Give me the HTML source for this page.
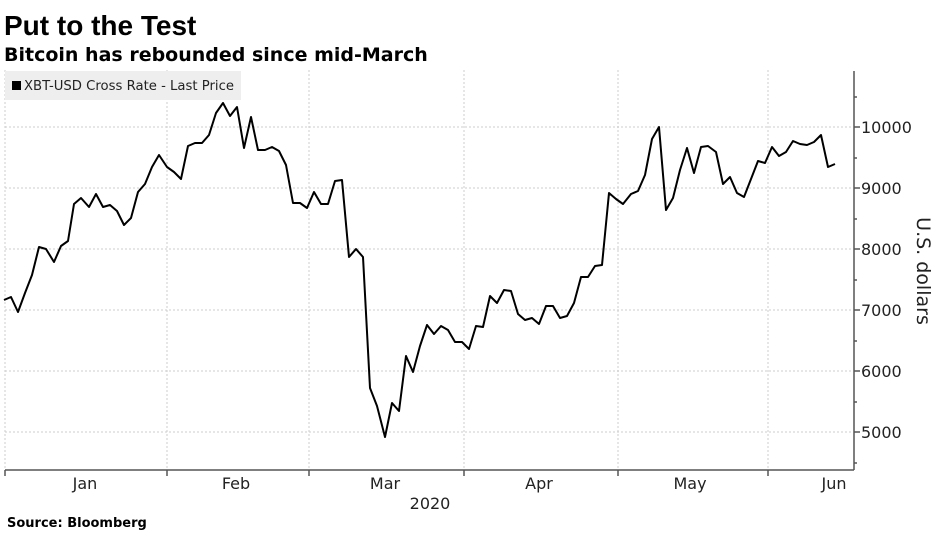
<!DOCTYPE html>
<html><head><meta charset="utf-8"><style>
body{margin:0;background:#fff;width:947px;height:547px;overflow:hidden;font-family:"Liberation Sans","DejaVu Sans",sans-serif}
</style></head><body>
<svg width="947" height="547" viewBox="0 0 947 547" xmlns="http://www.w3.org/2000/svg">
<text x="4" y="35" font-size="28" font-weight="bold" font-family="Liberation Sans, sans-serif">Put to the Test</text>
<text x="4" y="61" font-size="19" font-weight="bold" font-family="DejaVu Sans, sans-serif">Bitcoin has rebounded since mid-March</text>
<g stroke="#ccc" stroke-width="1" stroke-dasharray="2,2">
<line x1="5" x2="853" y1="127" y2="127"/><line x1="5" x2="853" y1="188" y2="188"/><line x1="5" x2="853" y1="249" y2="249"/><line x1="5" x2="853" y1="310" y2="310"/><line x1="5" x2="853" y1="371" y2="371"/><line x1="5" x2="853" y1="432" y2="432"/>
<line x1="167" x2="167" y1="70" y2="470"/><line x1="309" x2="309" y1="70" y2="470"/><line x1="464" x2="464" y1="70" y2="470"/><line x1="618" x2="618" y1="70" y2="470"/><line x1="768" x2="768" y1="70" y2="470"/><line x1="5" x2="5" y1="70" y2="470"/>
</g>
<rect x="5" y="71" width="236" height="29" fill="#eee"/>
<rect x="12" y="81" width="9" height="9" fill="#000"/>
<text x="24" y="90" font-size="13" textLength="210" lengthAdjust="spacingAndGlyphs" font-family="DejaVu Sans, sans-serif" fill="#222">XBT-USD Cross Rate - Last Price</text>
<polyline fill="none" stroke="#000" stroke-width="2" stroke-linejoin="round" points="4,300 11,297 18,312 25,293 32,275 39,247 46,249 54,262 61,246 68,241 74,204 81,198 89,207 96,194 103,207 110,205 117,211 124,225 131,218 138,192 145,184 152,167 159,155 167,167 174,172 181,179 188,146 195,143 202,143 209,135 216,113 223,103 230,116 237,107 244,148 251,117 258,150 265,150 272,147 279,151 286,165 293,203 300,203 307,208 314,192 321,204 328,204 335,181 342,180 349,257 356,249 363,257 370,388 377,406 385,437 392,403 399,411 406,356 413,372 420,346 427,325 434,334 441,326 448,330 455,342 462,342 469,349 476,326 483,327 490,296 497,303 504,290 511,291 518,314 525,320 532,318 539,324 546,306 553,306 560,318 567,316 574,303 581,277 588,277 595,266 602,265 609,193 616,199 623,204 631,194 638,191 645,175 652,139 659,127 666,210 673,198 680,170 687,148 694,173 701,147 708,146 716,152 723,184 730,177 737,193 744,197 751,179 758,161 765,163 772,147 779,156 786,152 793,141 800,144 807,145 814,142 821,135 828,167 835,164"/>
<g stroke="#555" stroke-width="1.5">
<line x1="5" x2="854" y1="470" y2="470"/>
<line x1="854" x2="854" y1="71" y2="470"/>
<line x1="5" x2="5" y1="470" y2="476"/><line x1="167" x2="167" y1="470" y2="476"/><line x1="309" x2="309" y1="470" y2="476"/><line x1="464" x2="464" y1="470" y2="476"/><line x1="618" x2="618" y1="470" y2="476"/><line x1="768" x2="768" y1="470" y2="476"/>
<line x1="854" x2="860" y1="127" y2="127"/><line x1="854" x2="860" y1="188" y2="188"/><line x1="854" x2="860" y1="249" y2="249"/><line x1="854" x2="860" y1="310" y2="310"/><line x1="854" x2="860" y1="371" y2="371"/><line x1="854" x2="860" y1="432" y2="432"/>
<line x1="854" x2="857" y1="97" y2="97"/><line x1="854" x2="857" y1="158" y2="158"/><line x1="854" x2="857" y1="219" y2="219"/><line x1="854" x2="857" y1="280" y2="280"/><line x1="854" x2="857" y1="341" y2="341"/><line x1="854" x2="857" y1="402" y2="402"/><line x1="854" x2="857" y1="463" y2="463"/>
</g>
<g font-size="16" font-family="DejaVu Sans, sans-serif" fill="#222">
<text x="861" y="133">10000</text><text x="861" y="194">9000</text><text x="861" y="255">8000</text><text x="861" y="316">7000</text><text x="861" y="377">6000</text><text x="861" y="438">5000</text>
<text x="85" y="489" text-anchor="middle">Jan</text><text x="236" y="489" text-anchor="middle">Feb</text><text x="385" y="489" text-anchor="middle">Mar</text><text x="539" y="489" text-anchor="middle">Apr</text><text x="690" y="489" text-anchor="middle">May</text><text x="834" y="489" text-anchor="middle">Jun</text>
<text x="430" y="509" text-anchor="middle">2020</text>
<text transform="translate(917,271) rotate(90)" text-anchor="middle" font-size="19">U.S. dollars</text>
</g>
<text x="7" y="527" font-size="13" font-weight="bold" font-family="DejaVu Sans, sans-serif">Source: Bloomberg</text>
</svg>
</body></html>
